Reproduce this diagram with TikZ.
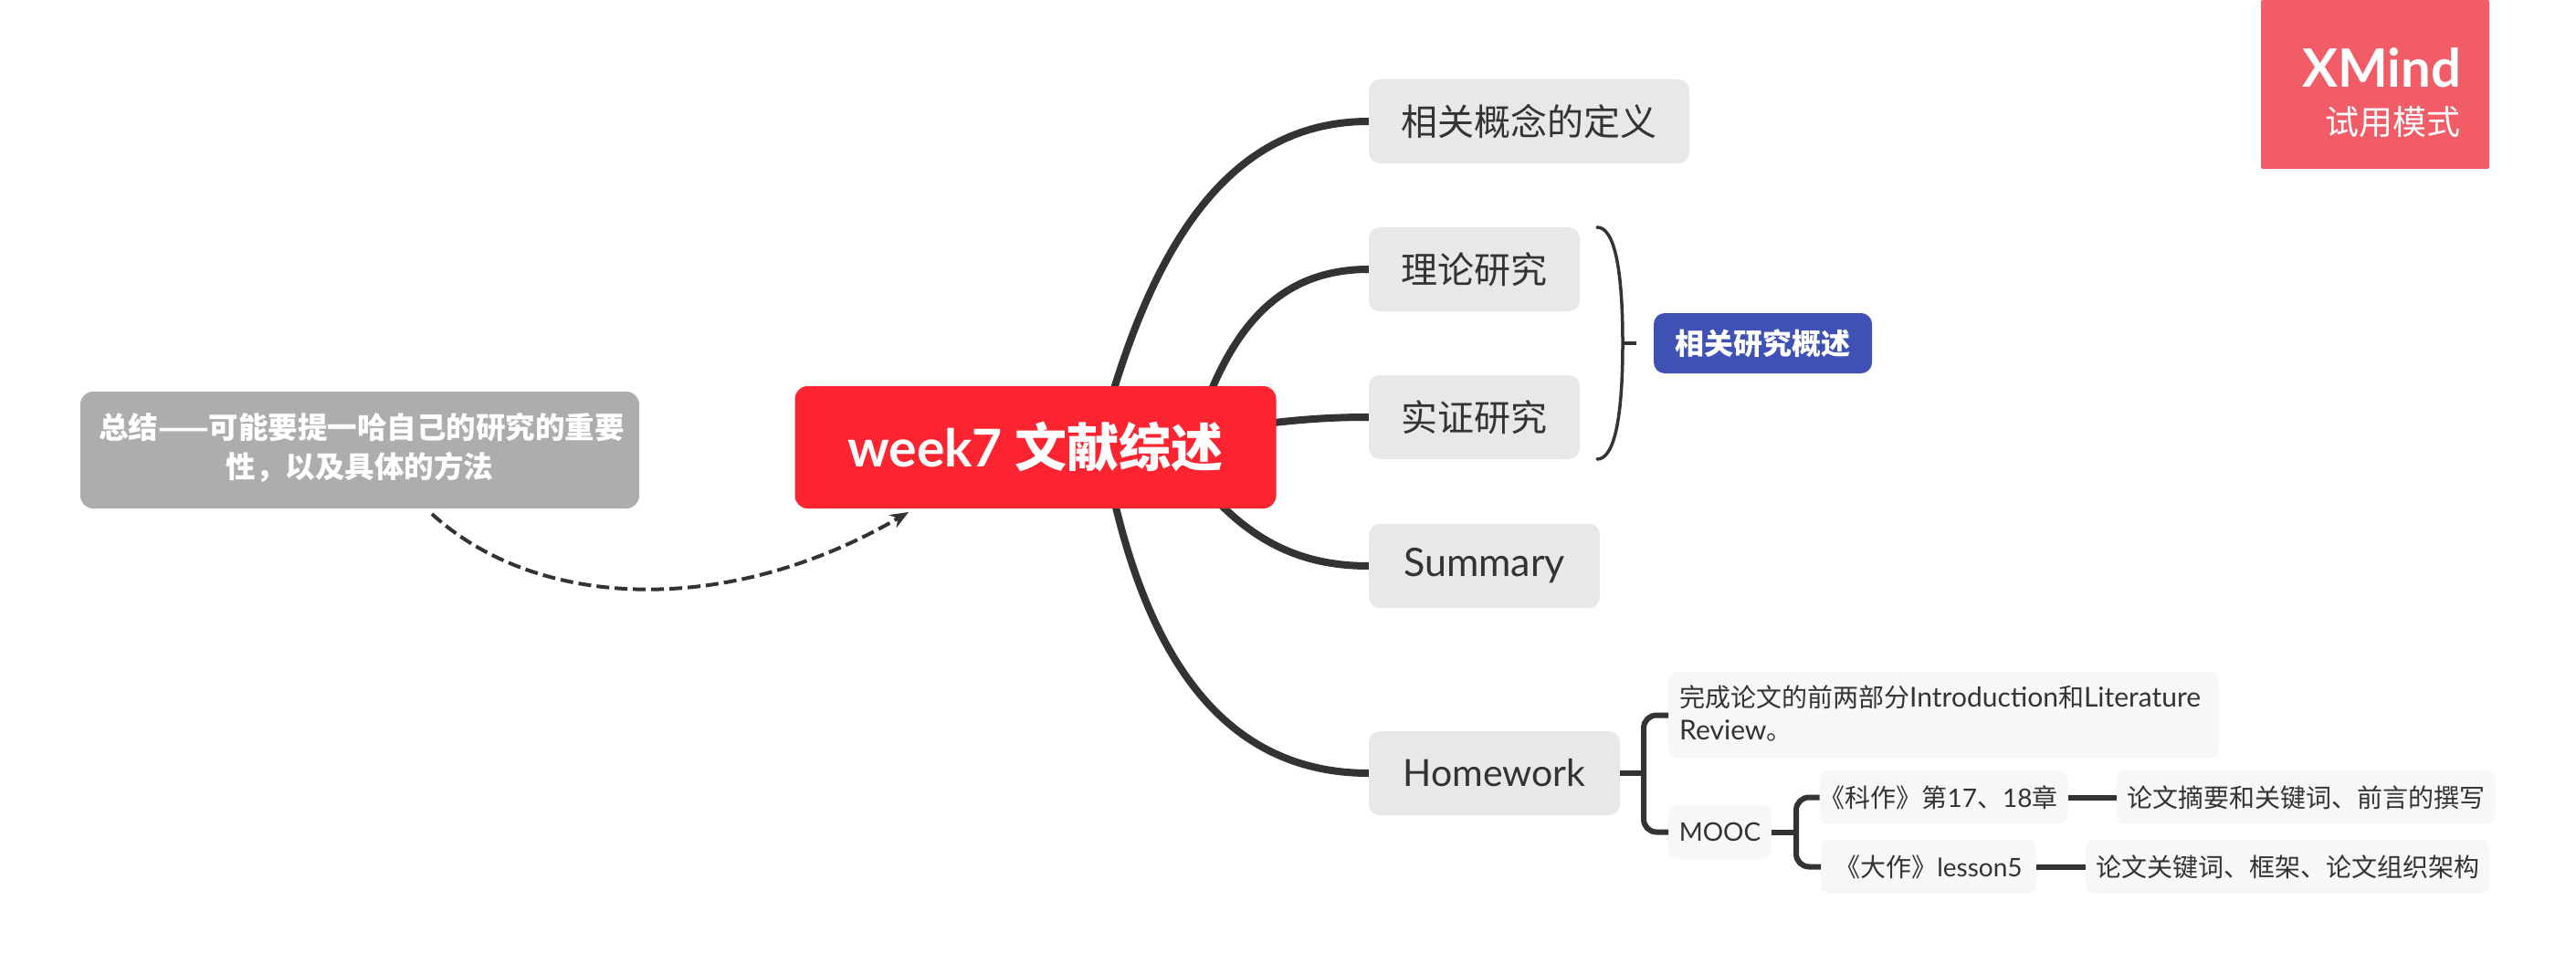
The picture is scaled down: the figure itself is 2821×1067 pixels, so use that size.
\documentclass[tikz,border=0pt]{standalone}
\usepackage{fontspec}
\setmainfont{Lato}
\newfontfamily\cjk{Noto Sans CJK SC}
\usetikzlibrary{arrows.meta,backgrounds}
\definecolor{ink}{HTML}{333333}
\definecolor{topicfill}{HTML}{E8E8E8}
\definecolor{leaffill}{HTML}{F7F7F7}
\definecolor{rootfill}{HTML}{FB2430}
\definecolor{grayfill}{HTML}{ADADAD}
\definecolor{bluefill}{HTML}{4051B5}
\definecolor{markfill}{HTML}{F25C67}
\newcommand{\fs}[1]{\fontsize{#1}{#1}\selectfont}
\newcommand{\dn}[1]{\raisebox{-2pt}{#1}}
\newcommand{\dnn}[1]{\raisebox{-9pt}{#1}}
\tikzset{
  x=1pt,y=-1pt,
  boxbase/.style={inner sep=0pt,outer sep=0pt,align=center,rounded corners=12pt},
  topic/.style={boxbase,fill=topicfill,text=ink,font=\fs{40}},
  leaf/.style={boxbase,fill=leaffill,text=ink,font=\fs{28},rounded corners=10pt},
  mainline/.style={draw=ink,line width=8pt},
  treeline/.style={draw=ink,line width=6pt,rounded corners=14pt},
  braceline/.style={draw=ink,line width=3.5pt,line cap=round},
  dashline/.style={draw=ink,line width=4pt,dash pattern=on 14pt off 6pt,-{Stealth[length=20pt,width=16pt]}},
}
\begin{document}
\begin{tikzpicture}
\useasboundingbox (0,0) rectangle (2821,1067);
% nodes: centre = middle of the box, sizes in reference pixels
\node[boxbase,fill=rootfill,text=white,font=\fs{57}\bfseries,minimum width=527pt,minimum height=134pt,rounded corners=14pt] (root) at (1134,490) {week7 {\cjk 文献综述}};
\node[boxbase,fill=grayfill,text=white,font=\cjk\fs{32.5}\bfseries,minimum width=612pt,minimum height=128pt,rounded corners=14pt] (sum) at (394,493) {\raisebox{-3pt}{\begin{tabular}{@{}c@{}}\hspace*{4pt}总结——可能要提一哈自己的研究的重要\\[5pt]性，以及具体的方法\end{tabular}}};
\node[topic,minimum width=351pt,minimum height=92pt] (defs) at (1674.5,133) {\dn{\cjk 相关概念的定义}};
\node[topic,minimum width=231pt,minimum height=92pt] (theory) at (1614.5,295) {\dn{\cjk 理论研究}};
\node[topic,minimum width=231pt,minimum height=92pt] (empir) at (1614.5,457) {\dn{\cjk 实证研究}};
\node[topic,font=\fs{43},minimum width=253pt,minimum height=92pt] (summ) at (1625.5,620) {\dnn{Summary}};
\node[topic,font=\fs{41},minimum width=275pt,minimum height=92pt] (home) at (1636.5,847) {\dnn{Homework}};
\node[boxbase,fill=bluefill,text=white,font=\cjk\fs{32}\bfseries,minimum width=239pt,minimum height=66pt,rounded corners=12pt] (rel) at (1930.5,376) {相关研究概述};
\node[leaf,minimum width=603pt,minimum height=95pt] (paper) at (2128.5,783.5) {};
\node[text=ink,font=\fs{30},inner sep=0pt,anchor=north west,align=left] (papertext) at (1839,751) {\begin{tabular}{@{}l@{}}{\cjk\fs{28}完成论文的前两部分}Introduction{\cjk\fs{28}和}Literature\\[5pt]Review{\cjk\fs{28}。}\end{tabular}};
\node[leaf,minimum width=113pt,minimum height=59pt] (mooc) at (1883.5,911.5) {MOOC};
\node[leaf,minimum width=269pt,minimum height=59pt] (ke) at (2128.5,873.5) {{\cjk 《科作》第}17{\cjk 、}18{\cjk 章}\hspace*{11pt}};
\node[leaf,minimum width=236pt,minimum height=59pt] (da) at (2112,949.5) {{\cjk 《大作》}lesson5};
\node[leaf,minimum width=415pt,minimum height=59pt] (abs) at (2525,873.5) {\cjk 论文摘要和关键词、前言的撰写};
\node[leaf,minimum width=442pt,minimum height=59pt] (frame) at (2505,949.5) {\cjk 论文关键词、框架、论文组织架构};
% trial mark
\node[fill=markfill,rounded corners=2pt,minimum width=250pt,minimum height=185pt,inner sep=0pt] (mark) at (2601,92.5) {};
\node[text=white,font=\fs{58}\bfseries,anchor=base east,inner sep=0pt] (marka) at (2695,96) {XMind};
\node[text=white,font=\cjk\fs{37},anchor=base east,inner sep=0pt] (markb) at (2695,148) {试用模式};
% connector end points
\coordinate (r1) at (1195,520);
\coordinate (r2) at (1314,460);
\coordinate (r3) at (1340,470);
\coordinate (r4) at (1300,510);
\coordinate (r5) at (1205,470);
\coordinate (bt) at (1749,249);
\coordinate (bb) at (1749,503);
\coordinate (bm) at (1777,376);
\coordinate (bk) at (1792,376);
\coordinate (ds) at (473,563);
\coordinate (de) at (995,561);
\begin{scope}[on background layer]
\draw[mainline] (r1) .. controls (1255,260) and (1350,133) .. (defs.west);
\draw[mainline] (r2) .. controls (1349,360) and (1400,295) .. (theory.west);
\draw[mainline] (r3) .. controls (1400,462) and (1440,457) .. (empir.west);
\draw[mainline] (r4) .. controls (1360,590) and (1420,620) .. (summ.west);
\draw[mainline] (r5) .. controls (1245,720) and (1340,847) .. (home.west);
\end{scope}
\draw[draw=ink,line width=6pt] (home.east) -- (1800,847);
\draw[treeline] (paper.west) -- (1800,783.5) -- (1800,911.5) -- (mooc.west);
\draw[draw=ink,line width=6pt] (mooc.east) -- (1967,911.5);
\draw[treeline] (ke.west) -- (1967,873.5) -- (1967,949.5) -- (da.west);
\draw[draw=ink,line width=6pt] (ke.east) -- (abs.west);
\draw[draw=ink,line width=6pt] (da.east) -- (frame.west);
\draw[braceline] (bt) .. controls (1767,249) and (1777,290) .. (bm) .. controls (1777,462) and (1767,503) .. (bb);
\draw[draw=ink,line width=4pt] (bm) -- (bk);
\draw[dashline] (ds) .. controls (590,670) and (800,675) .. (de);
\end{tikzpicture}
\end{document}
